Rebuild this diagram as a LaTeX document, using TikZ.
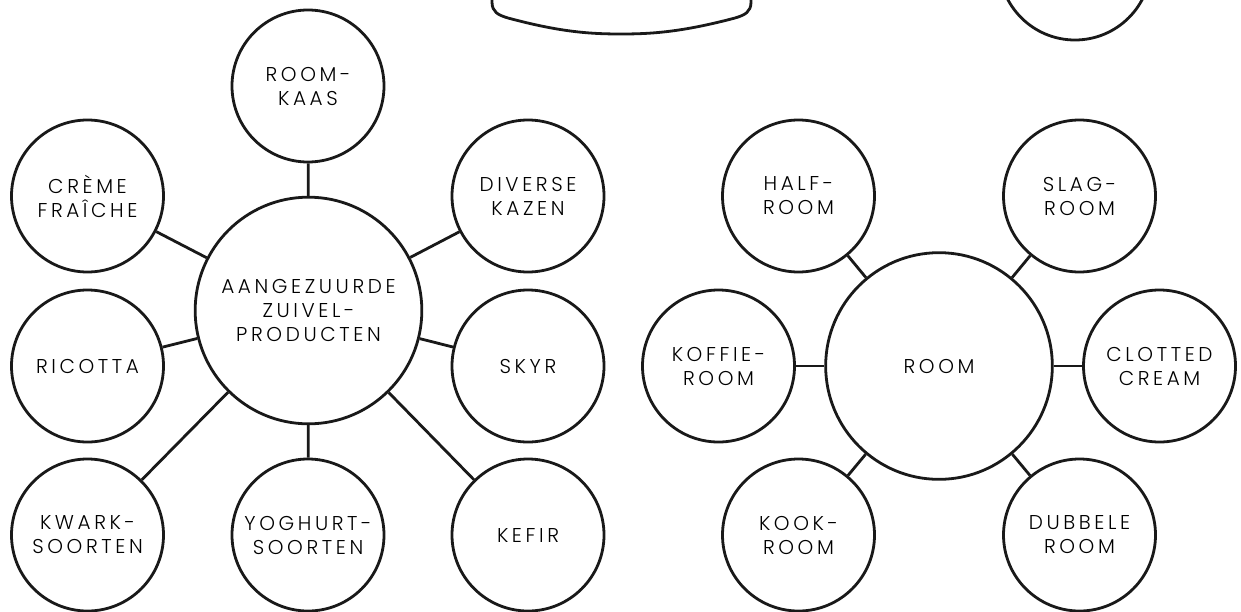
\documentclass[tikz,border=0pt]{standalone}
\usepackage{fontspec}
\setmainfont{Poppins}[UprightFont=* Light, LetterSpace=18]
\begin{document}
\begin{tikzpicture}[x=0.75pt,y=-0.75pt,
  ln/.style={line width=2.1pt, draw=black!90},
  sm/.style={circle, ln, minimum size=114pt, inner sep=0pt, align=center,
    font=\fontsize{15pt}{18pt}\selectfont},
  bg/.style={circle, ln, minimum size=170pt, inner sep=0pt, align=center,
    font=\fontsize{15pt}{18pt}\selectfont},
  cn/.style={ln}]
\useasboundingbox (0,0) rectangle (1241,611);
\clip (0,0) rectangle (1241,611);
% top partial shapes
\draw[ln] (492,-10) -- (492,2) .. controls (492,12) and (498,15) .. (508,18)
  .. controls (560,32) and (590,34) .. (621,34)
  .. controls (652,34) and (682,32) .. (735,18)
  .. controls (745,15) and (751,12) .. (751,2) -- (751,-10);
\node[sm] (top) at (1075,-36) {};
% left cluster
\node[bg] (az) at (308.5,310.5) {AANGEZUURDE\\ZUIVEL-\\PRODUCTEN};
\node[sm] (rk) at (308,86) {ROOM-\\KAAS};
\node[sm] (cf) at (87.5,196) {CRÈME\\FRAÎCHE};
\node[sm] (dk) at (528,196) {DIVERSE\\KAZEN};
\node[sm] (ri) at (87.5,366) {RICOTTA};
\node[sm] (sk) at (528,366) {SKYR};
\node[sm] (kw) at (87.5,535) {KWARK-\\SOORTEN};
\node[sm] (yo) at (308,535) {YOGHURT-\\SOORTEN};
\node[sm] (ke) at (528,535) {KEFIR};
\foreach \n in {rk,cf,dk,ri,sk,kw,yo,ke} \draw[cn] (az) -- (\n);
% right cluster
\node[bg] (ro) at (939,366) {ROOM};
\node[sm] (hr) at (798.5,196) {HALF-\\ROOM};
\node[sm] (sr) at (1079.5,196) {SLAG-\\ROOM};
\node[sm] (kr) at (718.5,366) {KOFFIE-\\ROOM};
\node[sm] (cc) at (1159.5,366) {CLOTTED\\CREAM};
\node[sm] (kk) at (798.5,535) {KOOK-\\ROOM};
\node[sm] (db) at (1079.5,535) {DUBBELE\\ROOM};
\foreach \n in {hr,sr,kr,cc,kk,db} \draw[cn] (ro) -- (\n);
\end{tikzpicture}
\end{document}
